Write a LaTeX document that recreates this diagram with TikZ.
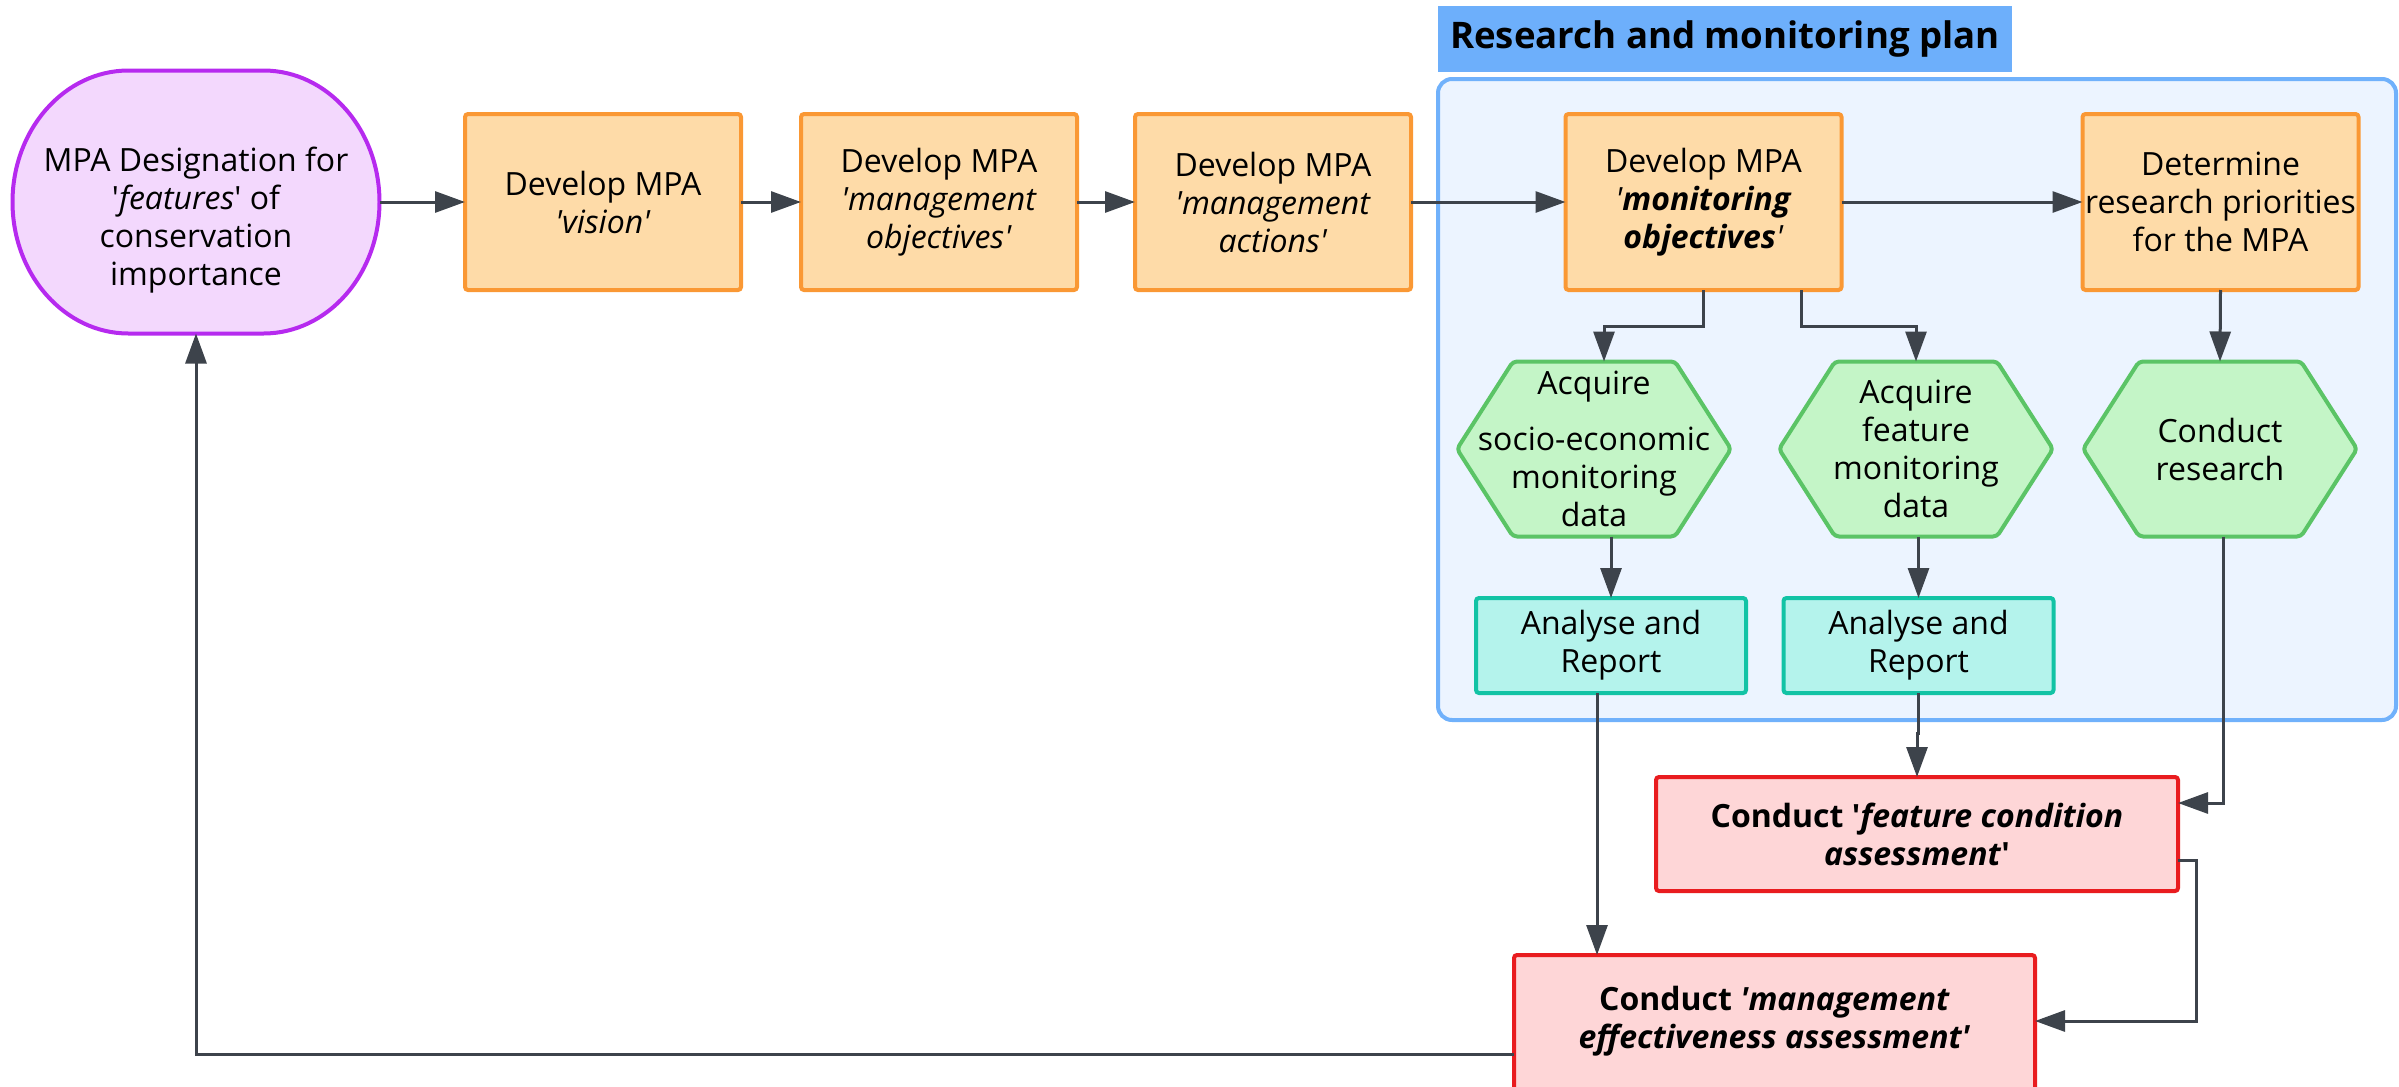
\documentclass[tikz,border=0pt]{standalone}
\usepackage{fontspec}
\setmainfont{Open Sans}
\usetikzlibrary{arrows.meta,calc}
\definecolor{stadF}{HTML}{F3D8FD}
\definecolor{stadB}{HTML}{B62AEF}
\definecolor{orF}{HTML}{FEDBA8}
\definecolor{orB}{HTML}{FA9834}
\definecolor{hexF}{HTML}{C4F5C7}
\definecolor{hexB}{HTML}{5BC466}
\definecolor{tealF}{HTML}{B4F3EC}
\definecolor{tealB}{HTML}{12C3A5}
\definecolor{redF}{HTML}{FED6D7}
\definecolor{redB}{HTML}{E91C1F}
\definecolor{contF}{HTML}{ECF4FF}
\definecolor{contB}{HTML}{70B1FB}
\definecolor{titleF}{HTML}{6DAFFB}
\definecolor{arrC}{HTML}{3D434B}
\newcommand{\fs}{\fontsize{16}{19}\selectfont}
\newcommand{\q}{\textquotesingle}
\pgfdeclarelayer{back}
\pgfdeclarelayer{mid}
\pgfsetlayers{back,mid,main}
\tikzset{
  txt/.style={align=center, inner sep=0pt, outer sep=0pt, font=\fs, text=black},
  obox/.style={txt, draw=orB, fill=orF, line width=2pt, rounded corners=1.5pt, minimum width=138pt, minimum height=88pt},
  hexnode/.style={txt, minimum width=137pt, minimum height=87.5pt},
  hexshape/.style={draw=hexB, fill=hexF, line width=2pt, rounded corners=2pt, line join=round},
  tbox/.style={txt, draw=tealB, fill=tealF, line width=2pt, rounded corners=1.5pt, minimum width=135pt, minimum height=47.5pt},
  rbox/.style={txt, draw=redB, fill=redF, line width=2pt, rounded corners=1.5pt, font=\fs\bfseries},
  arr/.style={draw=arrC, line width=1.5pt, -{Triangle[length=15pt,width=10.5pt]}},
}
\begin{document}
\begin{tikzpicture}[x=0.5pt,y=-0.5pt]
\useasboundingbox (0,0) rectangle (2399,1087);
% container and title
\begin{pgfonlayer}{back}
\filldraw[draw=contB, fill=contF, line width=2pt, rounded corners=7pt] (1438,79) rectangle (2396,720);
\end{pgfonlayer}
\node[fill=titleF, minimum width=287pt, minimum height=33pt, inner sep=0pt, font=\fontsize{18.3}{22}\selectfont\bfseries] (title) at (1725,39) {Research and monitoring plan};
% stadium
\node[txt, minimum width=183.5pt, minimum height=131.5pt] (st) at (196,202) {};
\begin{pgfonlayer}{mid}
\filldraw[draw=stadB, fill=stadF, line width=2pt] (128.5,70.5) -- (263.5,70.5) arc[start angle=90, end angle=-90, x radius=58pt, y radius=65.75pt] -- (128.5,333.5) arc[start angle=270, end angle=90, x radius=58pt, y radius=65.75pt] -- cycle;
\end{pgfonlayer}
\node[txt] (stt) at (196,220) {MPA Designation for\\\q\textit{features}\q{} of\\conservation\\importance};
% orange boxes
\node[obox] (v) at (603,202) {Develop MPA\\\textit{\q vision\q}};
\node[obox] (mobj) at (939,202) {Develop MPA\\\textit{\q management}\\\textit{objectives\q}};
\node[obox] (ma) at (1273,202) {Develop MPA\\\textit{\q management}\\\textit{actions\q}};
\node[obox] (mo) at (1703.5,202) {Develop MPA\\\textit{\q\textbf{monitoring}}\\\textit{\textbf{objectives}\q}};
\node[obox] (dr) at (2220.5,202) {Determine\\research priorities\\for the MPA};
% hexagons
\node[hexnode] (h1) at (1594,449) {Acquire\\[9pt]socio-economic\\monitoring\\data};
\node[hexnode] (h2) at (1916,449) {Acquire\\feature\\monitoring\\data};
\node[hexnode] (h3) at (2220,449) {Conduct\\research};
\begin{pgfonlayer}{mid}
\foreach \h in {h1,h2,h3}{
\filldraw[hexshape] (\h.west) -- ($(\h.north west)+(56,0)$) -- ($(\h.north east)+(-56,0)$) -- (\h.east) -- ($(\h.south east)+(-56,0)$) -- ($(\h.south west)+(56,0)$) -- cycle;
}
\end{pgfonlayer}
% teal boxes
\node[tbox] (t1) at (1611,645.5) {Analyse and\\Report};
\node[tbox] (t2) at (1918.5,645.5) {Analyse and\\Report};
% red boxes
\node[rbox, minimum width=261pt, minimum height=57pt] (red1) at (1917,834) {Conduct \q\textit{feature condition}\\\textit{assessment}\q};
\node[txt, font=\fs\bfseries, minimum width=260.5pt, minimum height=66pt] (red2) at (1774.5,1021) {Conduct \textit{\q management}\\\textit{effectiveness assessment\q}};
\begin{pgfonlayer}{mid}
\filldraw[draw=redB, fill=redF, line width=2pt, rounded corners=1.5pt] ($(red2.south west)+(0,30)$) -- (red2.north west) -- (red2.north east) -- ($(red2.south east)+(0,30)$);
\end{pgfonlayer}
% connectors
\draw[arr] (st.east) -- (v.west);
\draw[arr] (v.east) -- (mobj.west);
\draw[arr] (mobj.east) -- (ma.west);
\draw[arr] (ma.east) -- (mo.west);
\draw[arr] (mo.east) -- (dr.west);
\draw[arr] (mo.south) -- ++(0,36) -| ($(h1.north)+(10,0)$);
\draw[arr] ($(mo.south)+(98,0)$) -- ++(0,36) -| (h2.north);
\draw[arr] (dr.south) -- (h3.north);
\draw[arr] (t1.north |- h1.south) -- (t1.north);
\draw[arr] (t2.north |- h2.south) -- (t2.north);
\coordinate (c1) at ($(t1.south)+(-14,0)$);
\draw[arr] (c1) -- (c1 |- red2.north);
\draw[arr] (t2.south) -- ++(0,40) -| (red1.north);
\draw[arr] ($(h3.south)+(3,0)$) |- ($(red1.east)+(0,-31)$);
\draw[arr] ($(red1.east)+(0,26)$) -- ++(18,0) |- (red2.east);
\draw[arr] ($(red2.west)+(0,33)$) -| (st.south);
\end{tikzpicture}
\end{document}
